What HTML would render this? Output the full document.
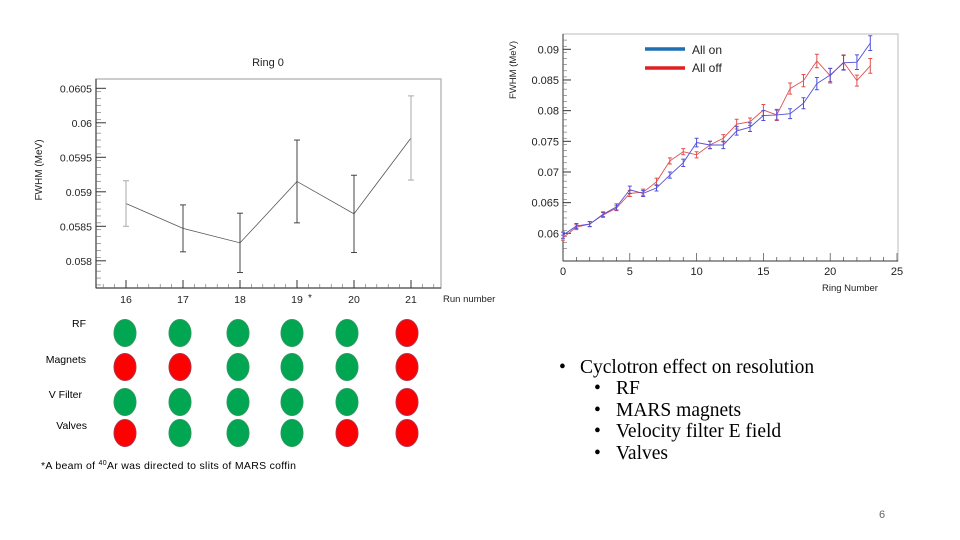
<!DOCTYPE html>
<html><head><meta charset="utf-8"><style>
html,body{margin:0;padding:0;background:#fff;}
svg{display:block;}
.s{font-family:"Liberation Sans",sans-serif;}
.c{font-family:"Liberation Sans",sans-serif;}
.r{font-family:"Liberation Serif",serif;}
</style></head><body>
<svg id="svg" width="960" height="540" viewBox="0 0 960 540" xmlns="http://www.w3.org/2000/svg">
<g id="left"></g>
<g id="right"></g>
<g id="grid"></g>
<text class="s" x="41" y="469" font-size="10.5" fill="#000" textLength="255">*A beam of <tspan font-size="7" dy="-4">40</tspan><tspan dy="4">Ar was directed to slits of MARS coffin</tspan></text>
<g class="r" font-size="19.5" fill="#000">
<text x="559" y="373">•</text>
<text x="580" y="373">Cyclotron effect on resolution</text>
<text x="594" y="394">•</text>
<text x="616" y="394">RF</text>
<text x="594" y="416">•</text>
<text x="616" y="416">MARS magnets</text>
<text x="594" y="437">•</text>
<text x="616" y="437">Velocity filter E field</text>
<text x="594" y="459">•</text>
<text x="616" y="459">Valves</text>
</g>
<text class="s" x="882" y="518" font-size="11" fill="#666" text-anchor="middle">6</text>
</svg>
<script>
const NS='http://www.w3.org/2000/svg';
function mk(p,t,a,txt){const e=document.createElementNS(NS,t);for(const k in a)e.setAttribute(k,a[k]);if(txt!==undefined)e.textContent=txt;p.appendChild(e);return e;}

// ---- Left chart data
const runs=[16,17,18,19,20,21];
const runFwhm=[0.05883,0.05847,0.05826,0.05915,0.05868,0.05978];
const runErr=[0.00033,0.00034,0.00043,0.0006,0.00056,0.00061];
const leftYTicks=[0.058,0.0585,0.059,0.0595,0.06,0.0605];
const leftYLabels=['0.058','0.0585','0.059','0.0595','0.06','0.0605'];
const runLabels=['16','17','18','19','20','21'];

// ---- Right chart data
const rings=[0,1,2,3,4,5,6,7,8,9,10,11,12,13,14,15,16,17,18,19,20,21,22,23];
const allOn=[0.0597,0.0612,0.0615,0.0631,0.0643,0.0671,0.0665,0.0674,0.0695,0.0715,0.0748,0.0744,0.0744,0.0767,0.0773,0.0792,0.0793,0.0795,0.0812,0.0844,0.0858,0.0878,0.0879,0.0910];
const allOff=[0.0593,0.0610,0.0615,0.0630,0.0641,0.0665,0.0667,0.0684,0.0718,0.0733,0.0728,0.0744,0.0755,0.0778,0.0782,0.0801,0.0793,0.0836,0.0849,0.0881,0.0857,0.0879,0.0849,0.0873];
const errOn=[0.0005,0.0004,0.0004,0.0004,0.0005,0.0006,0.0005,0.0005,0.0005,0.0006,0.0007,0.0006,0.0006,0.0007,0.0007,0.0008,0.0008,0.0008,0.0009,0.001,0.0011,0.0012,0.0012,0.0012];
const errOff=[0.0004,0.0004,0.0004,0.0004,0.0004,0.0005,0.0005,0.0006,0.0005,0.0005,0.0005,0.0006,0.0006,0.0008,0.0006,0.0009,0.0009,0.0009,0.0010,0.0011,0.0012,0.0012,0.0009,0.0012];
const rightXTicks=[0,5,10,15,20,25];
const rightYTicks=[0.06,0.065,0.07,0.075,0.08,0.085,0.09];
const rightYLabels=['0.06','0.065','0.07','0.075','0.08','0.085','0.09'];

// ---- Settings grid data
const rowNames=['RF','Magnets','V Filter','Valves'];
const states=[[1,1,1,1,1,0],[0,0,1,1,1,0],[1,1,1,1,1,0],[0,1,1,1,0,0]];

// Left chart
(function(){
const g=document.getElementById('left');
const L=96,T=79,R=441,B=288;
const x=v=>126+(v-16)*57, y=v=>88.3+(0.0605-v)/0.0005*34.5;
let e=mk(g,'rect',{x:L,y:T,width:R-L,height:B-T,fill:'none',stroke:'#bbb','stroke-width':1.5});

mk(g,'line',{x1:L,y1:T,x2:L,y2:B,stroke:'#333','stroke-width':1});
mk(g,'line',{x1:L,y1:B,x2:R,y2:B,stroke:'#333','stroke-width':1});
e=mk(g,'text',{x:268,y:66,'font-size':11,'text-anchor':'middle',class:'s',fill:'#222'},'Ring 0');

e=mk(g,'text',{x:0,y:0,'font-size':10,'text-anchor':'middle',class:'s',fill:'#222',transform:'translate(42,170) rotate(-90)'},'FWHM (MeV)');

for(let v=0.05755;v<0.06055;v+=0.0001){const yy=y(v);if(yy<T||yy>B)continue;mk(g,'line',{x1:L,y1:yy,x2:L+5,y2:yy,stroke:'#666','stroke-width':0.6});}
leftYTicks.forEach((v,i)=>{mk(g,'line',{x1:L,y1:y(v),x2:L+10,y2:y(v),stroke:'#333'});
e=mk(g,'text',{x:92,y:y(v)+4,'font-size':10.5,'text-anchor':'end',class:'s',fill:'#222'},leftYLabels[i]);
});
for(let v=15.6;v<21.55;v+=0.2){mk(g,'line',{x1:x(v),y1:B,x2:x(v),y2:B-4,stroke:'#666','stroke-width':0.6});}
runs.forEach((r,i)=>{mk(g,'line',{x1:x(r),y1:B,x2:x(r),y2:B-8,stroke:'#333'});
e=mk(g,'text',{x:x(r),y:303,'font-size':10.5,'text-anchor':'middle',class:'s',fill:'#222'},runLabels[i]);
});
e=mk(g,'text',{x:x(19)+11,y:301,'font-size':10,class:'s',fill:'#222'},'*');

e=mk(g,'text',{x:443,y:302,'font-size':9.5,class:'c',fill:'#222'},'Run number');

e=mk(g,'polyline',{points:runs.map((r,i)=>x(r)+','+y(runFwhm[i])).join(' '),fill:'none',stroke:'#555','stroke-width':0.8});

runs.forEach((r,i)=>{const col=(i==0||i==5)?'#aaa':'#444';
e=mk(g,'line',{x1:x(r),y1:y(runFwhm[i]-runErr[i]),x2:x(r),y2:y(runFwhm[i]+runErr[i]),stroke:col,'stroke-width':1});

mk(g,'line',{x1:x(r)-3,y1:y(runFwhm[i]-runErr[i]),x2:x(r)+3,y2:y(runFwhm[i]-runErr[i]),stroke:col});
mk(g,'line',{x1:x(r)-3,y1:y(runFwhm[i]+runErr[i]),x2:x(r)+3,y2:y(runFwhm[i]+runErr[i]),stroke:col});});
})();

// Right chart
(function(){
const g=document.getElementById('right');
const L=563,T=34,R=898,B=261;
const x=v=>563+v*13.36, y=v=>49.3+(0.09-v)/0.005*30.67;
let e=mk(g,'rect',{x:L,y:T,width:R-L,height:B-T,fill:'none',stroke:'#bbb','stroke-width':1});

mk(g,'line',{x1:L,y1:T,x2:L,y2:B,stroke:'#333'});
mk(g,'line',{x1:L,y1:B,x2:R,y2:B,stroke:'#333'});
for(let v=0.0575;v<0.0925;v+=0.001){const yy=y(v);if(yy<T||yy>B)continue;mk(g,'line',{x1:L,y1:yy,x2:L+4,y2:yy,stroke:'#666','stroke-width':0.6});}
rightYTicks.forEach((v,i)=>{mk(g,'line',{x1:L,y1:y(v),x2:L+8,y2:y(v),stroke:'#333'});
e=mk(g,'text',{x:559,y:y(v)+4,'font-size':11,'text-anchor':'end',class:'s',fill:'#222'},rightYLabels[i]);
});
for(let v=0;v<=25;v++){mk(g,'line',{x1:x(v),y1:B,x2:x(v),y2:B-(v%5?4:8),stroke:'#444','stroke-width':0.7});}
rightXTicks.forEach(v=>{e=mk(g,'text',{x:x(v),y:275,'font-size':11,'text-anchor':'middle',class:'s',fill:'#222'},String(v));
});
e=mk(g,'text',{x:0,y:0,'font-size':9.5,'text-anchor':'middle',class:'s',fill:'#222',transform:'translate(516,70) rotate(-90)'},'FWHM (MeV)');

e=mk(g,'text',{x:822,y:291,'font-size':9.5,class:'c',fill:'#222'},'Ring Number');

[[allOff,errOff,'#e05050','all-off-line'],[allOn,errOn,'#5050d8','all-on-line']].forEach(([d,er,c,n])=>{
e=mk(g,'polyline',{points:rings.map((r,i)=>x(r)+','+y(d[i])).join(' '),fill:'none',stroke:c,'stroke-width':0.9});

rings.forEach((r,i)=>{e=mk(g,'path',{d:`M${x(r)},${y(d[i]-er[i])}V${y(d[i]+er[i])}M${x(r)-2},${y(d[i]-er[i])}h4M${x(r)-2},${y(d[i]+er[i])}h4`,stroke:c,'stroke-width':1,fill:'none'});
});});
e=mk(g,'line',{x1:645,y1:49,x2:685,y2:49,stroke:'#1f6fb4','stroke-width':3.5});

e=mk(g,'text',{x:692,y:54,'font-size':12,class:'c',fill:'#222'},'All on');

e=mk(g,'line',{x1:645,y1:68,x2:685,y2:68,stroke:'#e02020','stroke-width':3.5});

e=mk(g,'text',{x:692,y:72,'font-size':12,class:'c',fill:'#222'},'All off');

})();

// Grid
(function(){
const g=document.getElementById('grid');
const cols=[125,180,238,292,347,407], rows=[333,367,402,433];
const lx=[86,86,82,87];
rowNames.forEach((n,r)=>{let e=mk(g,'text',{x:lx[r],y:rows[r]-4+(r==0?-2:0),'font-size':10.5,'text-anchor':'end',class:'c',fill:'#000'},n);

states[r].forEach((s,c)=>{e=mk(g,'ellipse',{cx:cols[c],cy:rows[r],rx:11,ry:13.5,fill:s?'#00a651':'#ff0000',stroke:s?'#2a9a5a':'#b0304a','stroke-width':1});
});});
})();
</script>
</body></html>
